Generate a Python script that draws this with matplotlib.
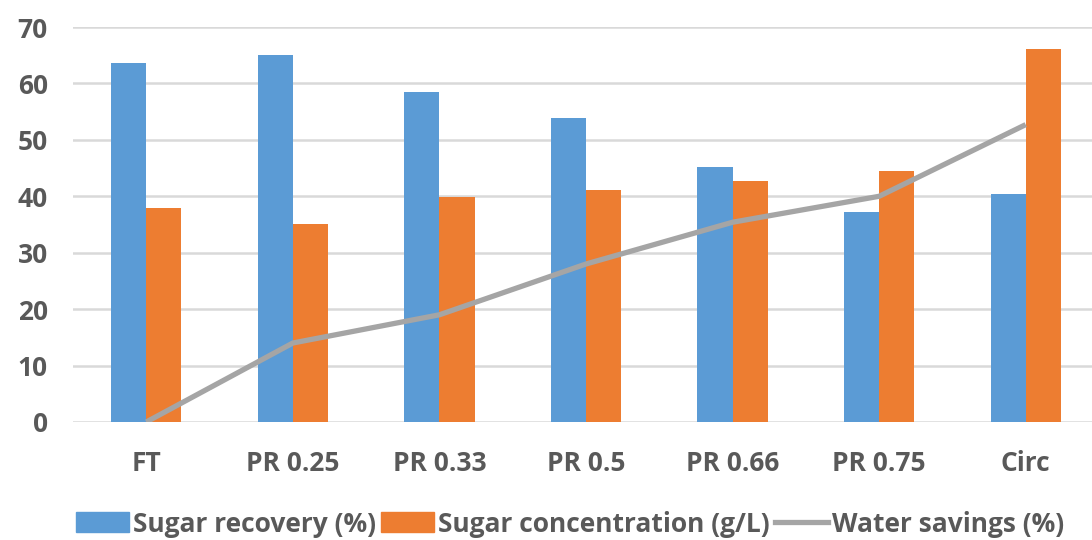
import numpy as np
import matplotlib.pyplot as plt
from matplotlib.patches import Patch
from matplotlib.lines import Line2D

# data
categories = ['FT', 'PR 0.25', 'PR 0.33', 'PR 0.5', 'PR 0.66', 'PR 0.75', 'Circ']
sugar_recovery = [63.7, 65.1, 58.5, 53.8, 45.2, 37.2, 40.4]
sugar_conc = [37.9, 35.1, 39.9, 41.2, 42.7, 44.5, 66.1]
water_savings = [0.0, 14.0, 19.0, 28.0, 35.4, 40.0, 52.7]

blue = '#5b9bd5'
orange = '#ed7d31'
gray = '#a5a5a5'
txt = '#595959'

plt.rcParams['font.family'] = ['Open Sans', 'DejaVu Sans']
plt.rcParams['font.weight'] = 'bold'

fig = plt.figure(figsize=(10.92, 5.40), dpi=100)
ax = fig.add_axes([73 / 1092, 1 - 422 / 540, (1099 - 73) / 1092, 395 / 540])

x = np.arange(len(categories))
w = 0.24
ax.bar(x - w / 2, sugar_recovery, w, color=blue, zorder=2)
ax.bar(x + w / 2, sugar_conc, w, color=orange, zorder=2)
ax.plot(x, water_savings, color=gray, lw=3.8, zorder=3, solid_capstyle='butt')

ax.set_xlim(-0.5, len(categories) - 0.5)
ax.set_ylim(0, 70)
ax.set_yticks(range(0, 71, 10))
ax.yaxis.grid(True, color='#d9d9d9', lw=1.8, zorder=0)
ax.set_axisbelow(True)
for s in ax.spines.values():
    s.set_visible(False)
ax.tick_params(length=0, labelsize=19, colors=txt)
ax.tick_params(axis='y', pad=18)
ax.tick_params(axis='x', pad=20)
ax.set_xticks(x)
ax.set_xticklabels(categories, fontweight='bold')
for lab in ax.get_yticklabels():
    lab.set_fontweight('bold')

handles = [Patch(color=blue), Patch(color=orange), Line2D([], [], color=gray, lw=3.8)]
labels = ['Sugar recovery (%)', 'Sugar concentration (g/L)', 'Water savings (%)']
leg = fig.legend(handles, labels, loc='center', bbox_to_anchor=(0.522, 1 - 524 / 540),
                 ncol=3, frameon=False, fontsize=19, handlelength=2.0, handleheight=0.8,
                 handletextpad=0.15, columnspacing=0.2)
for t in leg.get_texts():
    t.set_color(txt)
    t.set_fontweight('bold')

fig.savefig('out.png', dpi=100)
